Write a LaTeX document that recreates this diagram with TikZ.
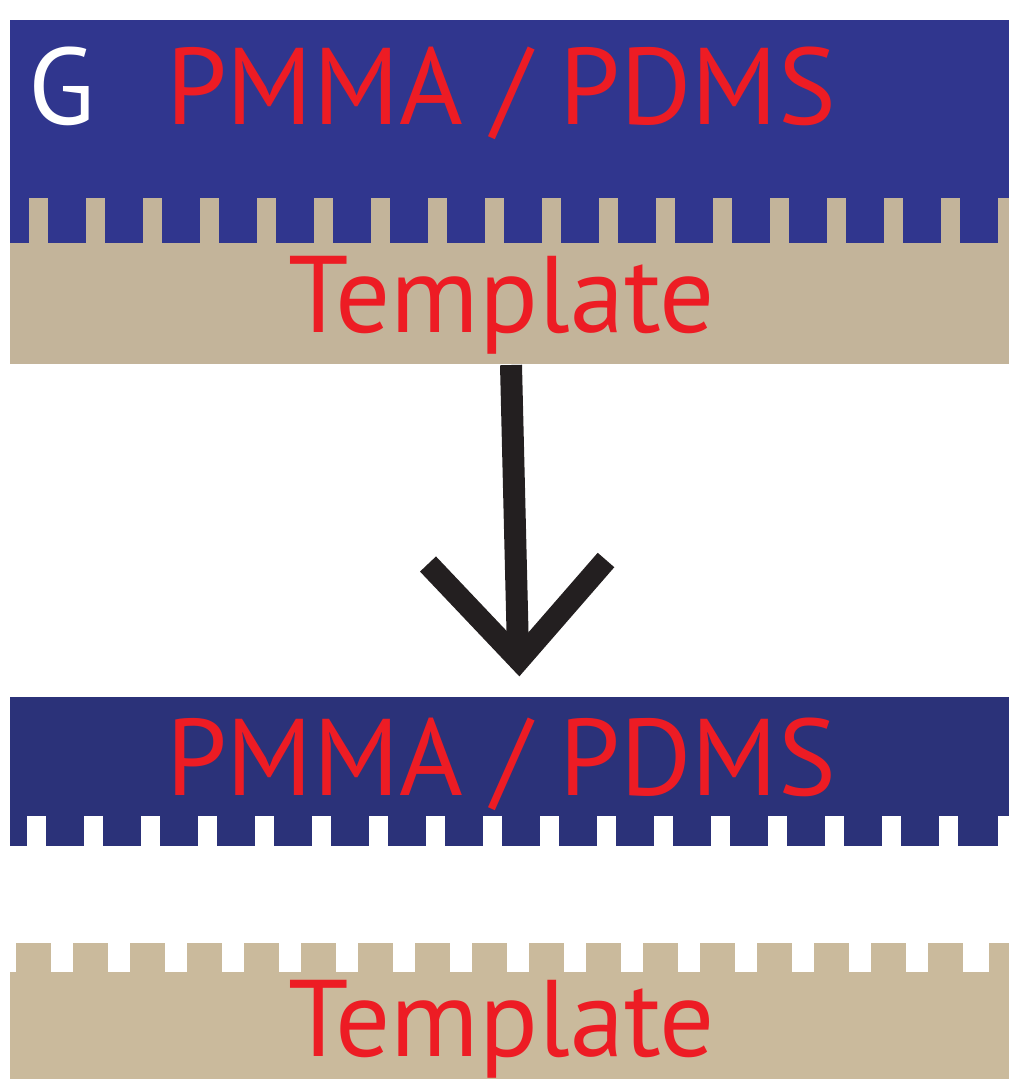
\documentclass[tikz,border=0pt]{standalone}
\usepackage{fontspec}
\setmainfont{PT Sans}
\definecolor{pblue}{HTML}{30368E}
\definecolor{pblueb}{HTML}{2B3279}
\definecolor{tan}{HTML}{C3B49A}
\definecolor{tanb}{HTML}{CABA9C}
\definecolor{lbl}{HTML}{ED1C24}
\definecolor{arr}{HTML}{231F20}
\tikzset{label/.style={anchor=base,inner sep=0pt,text=lbl,font=\fontsize{62}{62}\selectfont}}

\begin{document}
\begin{tikzpicture}[x=0.02cm,y=-0.02cm]
\useasboundingbox (0,0) rectangle (1009,1079);
%\draw [help lines,step=100] (0,0) grid (1009,1079);
% top: stamp on template
\fill [pblue] (10,20) rectangle (1009,243);
\fill [tan] (10,243) rectangle (1009,364);
\foreach \k in {0,...,16}
  \fill [tan] ({29+57*\k},198) rectangle ({48+57*\k},243);
\fill [tan] (998,198) rectangle (1009,243);
\node [label,anchor=base west,text=white] (g) at (28,124) {G};
\node [label] (pmmaA) at (501,124) {PMMA / PDMS};
\node [label] (tmplA) at (502,332) {Template};
% arrow
\coordinate (from) at (511,365);
\coordinate (to) at (518,652);
\draw [arr,line width=0.44cm] (from)--(to);
\draw [arr,line width=0.44cm,miter limit=4] (428,564)--(519,660)--(606,560);
% bottom: separated
\fill [pblueb] (10,697) rectangle (1009,846);
\foreach \k in {0,...,16}
  \fill [white] ({27+57*\k},816) rectangle ({46+57*\k},846);
\fill [white] (998,816) rectangle (1009,846);
\fill [tanb] (10,972) rectangle (1009,1079);
\foreach \k in {0,...,16}
  \fill [tanb] ({16+57*\k},943) rectangle ({51+57*\k},972);
\fill [tanb] (989,943) rectangle (1009,972);
\node [label] (pmmaB) at (501,795) {PMMA / PDMS};
\node [label] (tmplB) at (502,1056) {Template};
\end{tikzpicture}
\end{document}
